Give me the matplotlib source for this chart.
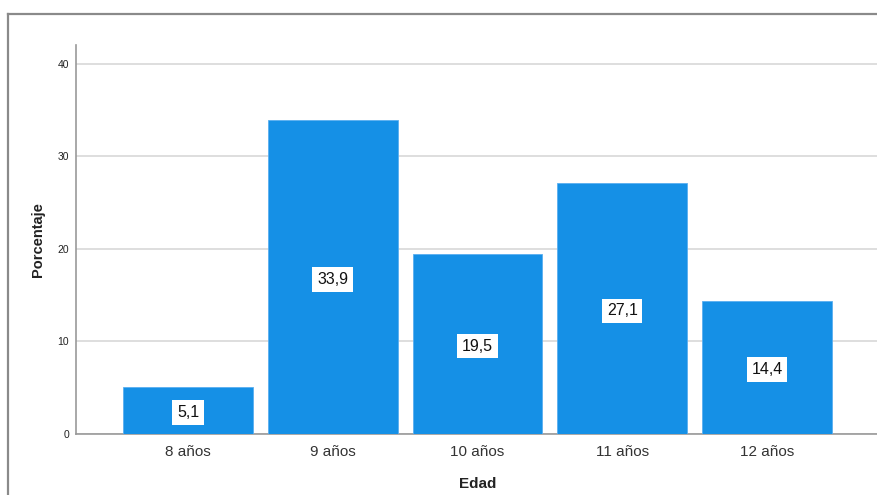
import matplotlib
matplotlib.use("Agg")
import matplotlib.pyplot as plt
from matplotlib.lines import Line2D

categories = ["8 años", "9 años", "10 años", "11 años", "12 años"]
values = [5.1, 33.9, 19.5, 27.1, 14.4]
labels = ["5,1", "33,9", "19,5", "27,1", "14,4"]
yticks = [0, 10, 20, 30, 40]

W, H = 877, 495
fig = plt.figure(figsize=(W / 100, H / 100), dpi=100)
plt.rcParams['font.family'] = ['Liberation Sans', 'DejaVu Sans']

# outer frame
fig.add_artist(Line2D([8 / W, 1.0], [1 - 13.5 / H, 1 - 13.5 / H], transform=fig.transFigure,
                      color="#8a8a8a", lw=1.6))
fig.add_artist(Line2D([8 / W, 8 / W], [1 - 13.5 / H, 0], transform=fig.transFigure,
                      color="#8a8a8a", lw=1.6))

left, right = 76 / W, 879 / W
bottom, top = 1 - 434 / H, 1 - 45 / H
ax = fig.add_axes([left, bottom, right - left, top - bottom])

x = list(range(len(categories)))
ax.bar(x, values, width=0.898, color="#1590e6", edgecolor="#5aaef0", linewidth=0.6, zorder=3)
for xi, v, lab in zip(x, values, labels):
    ax.text(xi, v / 2 - 0.25, lab, ha="center", va="center", fontsize=11.5, color="#111111", zorder=4,
            bbox=dict(boxstyle="square,pad=0.3", fc="white", ec="none"))

ax.set_xlim(-0.774, 4.774)
ax.set_ylim(0, 42.05)
ax.set_yticks(yticks)
ax.set_yticklabels([str(t) for t in yticks], fontsize=7.5, color="#222222")
ax.set_xticks(x)
ax.set_xticklabels(categories, fontsize=11, color="#333333")
ax.tick_params(axis="both", length=0)
ax.tick_params(axis="y", pad=5)
ax.tick_params(axis="x", pad=8)
ax.grid(axis="y", color="#d8d8d8", lw=1.2, zorder=0)
for s in ["top", "right"]:
    ax.spines[s].set_visible(False)
ax.spines["left"].set_color("#999999")
ax.spines["bottom"].set_color("#999999")
ax.spines["left"].set_linewidth(1.2)
ax.spines["bottom"].set_linewidth(1.2)

ax.set_xlabel("Edad", fontsize=11, fontweight="bold", color="#222222", labelpad=13)
ax.set_ylabel("Porcentaje", fontsize=10.5, fontweight="bold", color="#222222", labelpad=9)

fig.savefig("out.png", dpi=100)
